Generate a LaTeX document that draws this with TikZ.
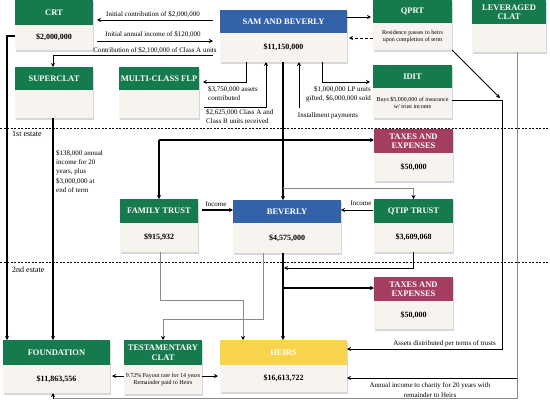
\documentclass[tikz,border=0pt]{standalone}
\usepackage{fontspec}
\setmainfont{Liberation Serif}
\usetikzlibrary{arrows.meta,shadows}
\definecolor{hgreen}{HTML}{157A4C}
\definecolor{hblue}{HTML}{3462A9}
\definecolor{hred}{HTML}{A53C62}
\definecolor{hyellow}{HTML}{F8D44C}
\definecolor{bodyfill}{HTML}{F7F4EF}
\definecolor{lgray}{HTML}{8A8A8A}
\newcommand\orgbox[9]{%
  \node[hdr, fill=#7, minimum width=#4pt, minimum height=#5pt, anchor=north west] (#1h) at (#2,#3) {#8};
  \node[bdy, minimum width=#4pt, minimum height=#6pt, anchor=north] (#1) at (#1h.south) {#9};}
\newcommand\orgboxsm[9]{%
  \node[hdr, fill=#7, minimum width=#4pt, minimum height=#5pt, anchor=north west] (#1h) at (#2,#3) {#8};
  \node[bdy, smallbdy, minimum width=#4pt, minimum height=#6pt, anchor=north] (#1) at (#1h.south) {#9};}
\tikzset{
  boxshadow/.style={drop shadow={shadow xshift=1.3pt,shadow yshift=-1.6pt,opacity=0.3}},
  hdr/.style={inner sep=0pt, outer sep=0pt, text=white, align=center,
    font=\bfseries\fontsize{8.5}{9.5}\selectfont, boxshadow},
  bdy/.style={inner sep=0pt, outer sep=0pt, fill=bodyfill, align=center,
    font=\bfseries\fontsize{8}{9.5}\selectfont, boxshadow},
  smallbdy/.style={font=\fontsize{6}{7.5}\selectfont},
  lbl/.style={inner sep=0pt, font=\fontsize{7}{9.3}\selectfont},
  arr/.style={draw=black, line width=0.9pt, -{Stealth[length=4pt,width=4pt,color=black]}},
  bigarr/.style={arr, line width=1.3pt},
  garr/.style={arr, draw=lgray, line width=0.8pt},
  gline/.style={draw=lgray, line width=0.8pt},
  sepline/.style={draw=black, line width=0.9pt, dash pattern=on 2pt off 1.5pt},
}
\begin{document}
\begin{tikzpicture}[x=1pt,y=-1pt]
\useasboundingbox[fill=white] (0,0) rectangle (550,400);
% estate separators
\draw[sepline] (0,128) -- (550,128);
\draw[sepline] (0,262) -- (550,262);
\node[inner sep=0pt, font=\fontsize{8}{9}\selectfont, anchor=west] (est1) at (12,134) {1st estate};
\node[inner sep=0pt, font=\fontsize{8}{9}\selectfont, anchor=west] (est2) at (12,270) {2nd estate};

% boxes
\orgbox{CRT}{15}{0}{78}{25}{25}{hgreen}{CRT}{\$2,000,000}
\orgbox{SAM}{220}{10}{127}{23}{29}{hblue}{SAM AND BEVERLY}{\$11,150,000}
\orgboxsm{QPRT}{373}{0}{79}{23}{27}{hgreen}{QPRT}{Residence passes to heirs\\upon completion of term}
\orgbox{LCLAT}{472}{0}{74}{24}{28}{hgreen}{LEVERAGED\\CLAT}{}
\orgbox{SUPERCLAT}{15}{67}{78}{23}{28}{hgreen}{SUPERCLAT}{}
\orgbox{FLP}{119}{67}{80}{23}{28}{hgreen}{MULTI-CLASS FLP}{}
\orgboxsm{IDIT}{373}{65}{79}{23}{30}{hgreen}{IDIT}{Buys \$5,000,000 of insurance\\w/ trust income}
\orgbox{TAXA}{374}{129}{79}{24}{28}{hred}{TAXES AND\\EXPENSES}{\$50,000}
\orgbox{FTRUST}{120}{199}{78}{24}{29}{hgreen}{FAMILY TRUST}{\$915,932}
\orgbox{BEV}{233}{200}{108}{23}{30}{hblue}{BEVERLY}{\$4,575,000}
\orgbox{QTIP}{374}{199}{79}{24}{29}{hgreen}{QTIP TRUST}{\$3,609,068}
\orgbox{TAXB}{374}{277}{79}{24}{28}{hred}{TAXES AND\\EXPENSES}{\$50,000}
\orgbox{FOUND}{3}{340}{107}{25}{28}{hgreen}{FOUNDATION}{\$11,863,556}
\orgboxsm{TCLAT}{124}{340}{78}{25}{29}{hgreen}{TESTAMENTARY\\CLAT}{9.72\% Payout rate for 14 years\\Remainder paid to Heirs}
\orgbox{HEIRS}{220}{340}{127}{25}{27}{hyellow}{HEIRS}{\$16,613,722}

% top connectors
\draw[arr, shorten <=7pt, shorten >=4pt] (SAMh.west|-0,20) -- (CRTh.east|-0,20);
\node[lbl] (lab1) at (153,14) {Initial contribution of \$2,000,000};
\draw[arr, shorten <=4pt, shorten >=7pt] (CRT.east|-0,41) -- (SAM.west|-0,41);
\node[lbl] (lab2) at (153,35) {Initial annual income of \$120,000};
\draw[arr, shorten <=7pt] (SAM.west|-0,55) -- (53,55) -- (SUPERCLATh.north-|53,0);
\node[lbl] (lab3) at (155,50) {Contribution of \$2,100,000 of Class A units};
\draw[arr, shorten >=2pt] (SAMh.east|-0,17) -- (QPRTh.west|-0,17);
\draw[arr, dash pattern=on 3pt off 2pt, shorten >=2pt] (QPRT.west|-0,38) -- (SAM.east|-0,38);

\draw[arr, shorten >=4pt] (SAM.south-|246,0) -- (246,82) -- (FLP.east|-0,82);
\node[lbl, anchor=north west, align=left] (lab4) at (208,86) {\$3,750,000 assets\\contributed};
\draw[arr] ([xshift=5pt]FLP.east|-0,107) -- (266,107) -- (SAM.south-|266,0);
\node[lbl, anchor=north west, align=left] (lab5) at (206,109) {\$2,625,000 Class A and\\Class B units received};
\draw[arr] (299,108) -- (SAM.south-|299,0);
\node[lbl] (lab6) at (328,116) {Installment payments};
\draw[arr, shorten >=3pt] (SAM.south-|322,0) -- (322,82) -- (IDIT.west|-0,82);
\node[lbl, anchor=north east, align=right] (lab7) at (371,86) {\$1,000,000 LP units\\gifted, \$6,000,000 sold};

% right side
\draw[arr] (QPRT.south east) -- (500,98);
\draw[arr] (IDIT.east|-0,100) -- (502,100) -- (502,349) -- (HEIRSh.east|-0,349);
\node[lbl, anchor=east] (lab8) at (496,344) {Assets distributed per terms of trusts};
\draw[gline] (LCLAT.south-|517,0) -- (517,398.5) -- (53,398.5);
\draw[arr] (53,398.5) -- (FOUND.south-|53,0);
\draw[arr] (517,378) -- (HEIRS.east|-0,378);
\node[lbl, align=center] (lab9) at (430,390) {Annual income to charity for 20 years with\\remainder to Heirs};

% left side
\draw[bigarr] (CRT.west|-0,36) -- (7,36) -- (FOUNDh.north-|7,0);
\draw[bigarr] (SUPERCLAT.south-|53,0) -- (FOUNDh.north-|53,0);
\node[lbl, anchor=north west, align=left] (lab10) at (56,150) {\$138,000 annual\\income for 20\\years, plus\\\$3,000,000 at\\end of term};

% first estate
\draw[bigarr] (SAM.south-|283,0) -- (BEVh.north-|283,0);
\draw[bigarr] (FTRUSTh.north|-0,140) -- (TAXAh.west|-0,140);
\draw[bigarr] (FTRUSTh.north|-0,140) -- (FTRUSTh.north);
\draw[garr] (283,188) -- (QTIPh.north|-0,188) -- (QTIPh.north);
\draw[bigarr, shorten <=4pt] (FTRUSTh.east|-0,210) -- (BEVh.west|-0,210);
\node[lbl] (lab11) at (216,204) {Income};
\draw[arr, shorten <=1pt] (QTIPh.west|-0,210) -- (BEVh.east|-0,210);
\node[lbl] (lab12) at (361,203) {Income};

% second estate
\draw[garr] (FTRUST.south-|160,0) -- (160,300) -- (243,300) -- (HEIRSh.north-|243,0);
\draw[garr] (BEV.south-|263,0) -- (263,319) -- (TCLATh.north|-0,319) -- (TCLATh.north);
\draw[bigarr] (BEV.south-|283,0) -- (HEIRSh.north-|283,0);
\draw[arr] (QTIP.south-|413,0) -- (413,268) -- (284,268);
\draw[bigarr] (283,288) -- (TAXBh.west|-0,288);
\draw[arr, shorten >=2pt] (TCLAT.west|-0,376) -- (FOUND.east|-0,376);
\draw[arr, shorten >=2pt] (TCLAT.east|-0,376) -- (HEIRS.west|-0,376);
\end{tikzpicture}
\end{document}
